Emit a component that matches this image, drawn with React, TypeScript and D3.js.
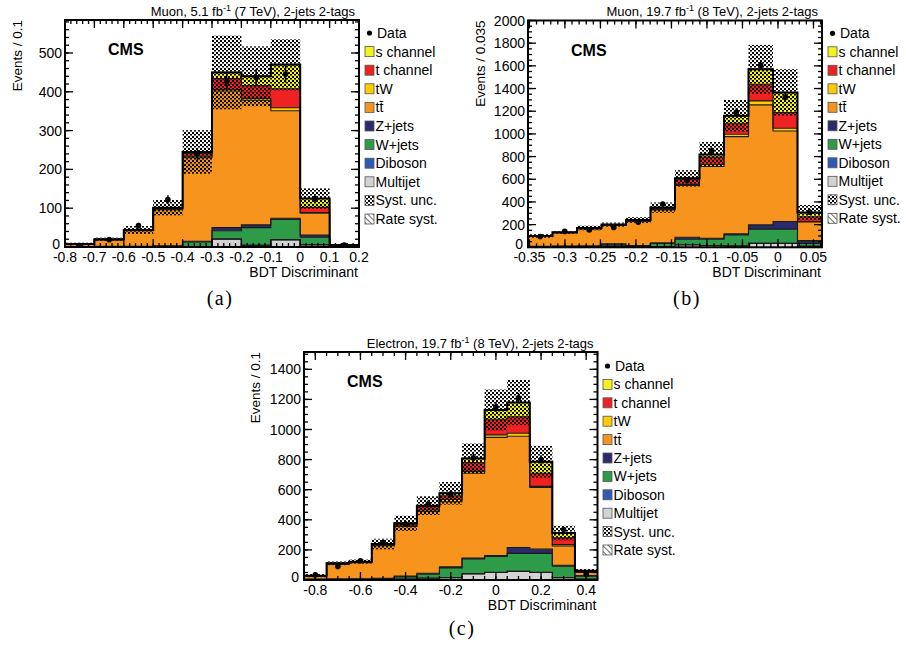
import React from 'react';
import * as d3 from 'd3';

// stack order, bottom to top
const layerKeys = ['multijet', 'diboson', 'wjets', 'zjets', 'ttbar', 'tW', 'tchan', 'schan'];
const layerColors: Record<string, string> = {
  multijet: '#d3d3d3',
  diboson: '#2f5ab4',
  wjets: '#2e9b48',
  zjets: '#2a2a6c',
  ttbar: '#f7941d',
  tW: '#ffcc00',
  tchan: '#ee2222',
  schan: '#f2f21e',
};
// legend order, top to bottom
const legendKeys = ['schan', 'tchan', 'tW', 'ttbar', 'zjets', 'wjets', 'diboson', 'multijet'];
const legendLabels: Record<string, string> = {
  schan: 's channel',
  tchan: 't channel',
  tW: 'tW',
  ttbar: 'tt\u0304',
  zjets: 'Z+jets',
  wjets: 'W+jets',
  diboson: 'Diboson',
  multijet: 'Multijet',
};

// ---- (a) Muon, 7 TeV
const edgesA = [-0.8, -0.7, -0.6, -0.5, -0.4, -0.3, -0.2, -0.1, 0, 0.1, 0.2];
const multijetA = [0, 0, 0, 0, 0, 20, 4, 18, 5, 0];
const dibosonA = [0, 0, 0, 0, 0.5, 1, 1, 1, 1, 0];
const wjetsA = [0.5, 1, 1, 2, 12.5, 21, 45, 52, 19, 1];
const zjetsA = [0.5, 0.5, 1, 1, 2, 8, 7, 3, 6, 1];
const ttbarA = [6, 16.5, 40, 93, 215, 352, 321, 277, 56, 1.5];
const tWA = [0.3, 0.5, 0.5, 1, 4, 4, 5, 8, 2, 0.5];
const tchanA = [0.4, 0.8, 1, 2.5, 7, 28, 33, 49, 13, 0.5];
const schanA = [0.3, 0.7, 0.5, 1.5, 4, 16, 24, 62, 23, 0.5];
const dataA = [4, 19, 55, 122, 240, 427, 437, 445, 125, 5];
const uncA = [3, 4, 10, 20, 56, 95, 77, 66, 26, 2];
const xTicksA = [-0.8, -0.7, -0.6, -0.5, -0.4, -0.3, -0.2, -0.1, 0, 0.1, 0.2];
const yTicksA = [0, 100, 200, 300, 400, 500];

// ---- (b) Muon, 8 TeV
const edgesB = [-0.352, -0.3175, -0.283, -0.2485, -0.214, -0.1795, -0.145, -0.1105, -0.076, -0.0415, -0.007, 0.0275, 0.062];
const multijetB = [2, 2, 3, 5, 4, 5, 20, 15, 10, 35, 35, 8];
const dibosonB = [0.5, 0.5, 1, 1, 1, 1.5, 2, 1, 1, 1, 1, 1];
const wjetsB = [3.5, 5.5, 6, 12, 7, 26.5, 49, 55, 99, 124, 124, 26];
const zjetsB = [2, 2, 2, 12, 4, 7, 18, 9, 8, 38, 68, 24];
const ttbarB = [89, 118, 151, 162, 214, 290, 456, 632, 858, 1058, 798, 164];
const tWB = [1, 1.5, 2, 3, 3, 4, 10, 18, 21, 35, 24, 5];
const tchanB = [1, 1.5, 3, 3, 4, 11, 45, 65, 97, 147, 138, 42];
const schanB = [1, 1, 2, 2, 3, 5, 8, 23, 65, 132, 177, 36];
const dataB = [95, 140, 153, 174, 221, 382, 592, 850, 1191, 1603, 1323, 310];
const uncB = [15, 12, 20, 18, 25, 45, 72, 110, 140, 215, 205, 67];
const xTicksB = [-0.35, -0.3, -0.25, -0.2, -0.15, -0.1, -0.05, 0, 0.05];
const yTicksB = [0, 200, 400, 600, 800, 1000, 1200, 1400, 1600, 1800, 2000];

// ---- (c) Electron, 8 TeV
const edgesC = [-0.85, -0.75, -0.65, -0.55, -0.45, -0.35, -0.25, -0.15, -0.05, 0.05, 0.15, 0.25, 0.35, 0.45];
const multijetC = [2, 3, 3, 5, 5, 12, 15, 41, 50, 57, 50, 15, 5];
const dibosonC = [0.5, 0.5, 0.5, 1, 1, 1, 1, 1, 1, 1, 1, 1, 1];
const wjetsC = [2.5, 2.5, 3.5, 4, 14, 25, 64, 98, 106, 119, 126, 75, 19];
const zjetsC = [1, 1, 1, 2, 7, 7, 7, 6, 6, 39, 28, 7, 5];
const ttbarC = [20, 98, 107, 216, 328, 410, 433, 563, 785, 739, 410, 128, 20];
const tWC = [1, 2, 3, 4, 5, 10, 15, 13, 16, 20, 7, 9, 2];
const tchanC = [1, 2, 2, 4, 12, 22, 25, 58, 104, 110, 87, 45, 4];
const schanC = [1, 2, 2, 3, 5, 7, 16, 28, 62, 94, 77, 32, 6];
const dataC = [35, 89, 128, 250, 372, 505, 572, 810, 1150, 1210, 800, 335, 38];
const uncC = [10, 12, 15, 35, 50, 62, 75, 100, 135, 150, 105, 48, 10];
const xTicksC = [-0.8, -0.6, -0.4, -0.2, 0, 0.2, 0.4];
const yTicksC = [0, 200, 400, 600, 800, 1000, 1200, 1400];

const panels = [
  {
    id: 'a',
    left: 65, right: 359, top: 20, bottom: 247, ymax: 585,
    edges: edgesA,
    layers: { multijet: multijetA, diboson: dibosonA, wjets: wjetsA, zjets: zjetsA, ttbar: ttbarA, tW: tWA, tchan: tchanA, schan: schanA },
    data: dataA, unc: uncA,
    xTicks: xTicksA, xMinor: 0.02, yTicks: yTicksA, yMinor: 20,
    title1: 'Muon, 5.1 fb', title2: ' (7 TeV), 2-jets 2-tags',
    yTitle: 'Events / 0.1', yTitleX: 22,
    legX: 365, legY: 33, legDy: 18.6,
    caption: '(a)', capX: 220, capY: 305,
  },
  {
    id: 'b',
    left: 528, right: 822, top: 20.5, bottom: 247.3, ymax: 2000,
    edges: edgesB,
    layers: { multijet: multijetB, diboson: dibosonB, wjets: wjetsB, zjets: zjetsB, ttbar: ttbarB, tW: tWB, tchan: tchanB, schan: schanB },
    data: dataB, unc: uncB,
    xTicks: xTicksB, xMinor: 0.01, yTicks: yTicksB, yMinor: 50,
    title1: 'Muon, 19.7 fb', title2: ' (8 TeV), 2-jets 2-tags',
    yTitle: 'Events / 0.035', yTitleX: 485,
    legX: 828, legY: 33.3, legDy: 18.5,
    caption: '(b)', capX: 687, capY: 305,
  },
  {
    id: 'c',
    left: 304, right: 597.5, top: 352, bottom: 580, ymax: 1515,
    edges: edgesC,
    layers: { multijet: multijetC, diboson: dibosonC, wjets: wjetsC, zjets: zjetsC, ttbar: ttbarC, tW: tWC, tchan: tchanC, schan: schanC },
    data: dataC, unc: uncC,
    xTicks: xTicksC, xMinor: 0.05, yTicks: yTicksC, yMinor: 50,
    title1: 'Electron, 19.7 fb', title2: ' (8 TeV), 2-jets 2-tags',
    yTitle: 'Events / 0.1', yTitleX: 260,
    legX: 603, legY: 366, legDy: 18.4,
    caption: '(c)', capX: 462, capY: 635,
  },
];

const fmt = (v: number) => String(+v.toFixed(3));

function Panel({ p }: { p: any }) {
  const lo = p.edges[0];
  const hi = p.edges[p.edges.length - 1];
  const x = d3.scaleLinear().domain([lo, hi]).range([p.left, p.right]);
  const y = d3.scaleLinear().domain([0, p.ymax]).range([p.bottom, p.top]);
  const nb = p.edges.length - 1;

  const rows = d3.range(nb).map((i) => {
    const r: any = {};
    layerKeys.forEach((k) => (r[k] = p.layers[k][i]));
    return r;
  });
  const series = d3.stack().keys(layerKeys)(rows);
  const steps = (s: any) =>
    d3.range(nb).flatMap((i) => [
      [p.edges[i], s[i][0], s[i][1]],
      [p.edges[i + 1], s[i][0], s[i][1]],
    ]);
  const area = d3.area<any>().x((d) => x(d[0])).y0((d) => y(d[1])).y1((d) => y(d[2]));
  const line = d3.line<any>().x((d) => x(d[0])).y((d) => y(d[2]));
  const total = series[series.length - 1].map((d) => d[1]);
  const clipId = 'clip-' + p.id;

  const xMinor = d3.range(Math.ceil(lo / p.xMinor - 1e-6) * p.xMinor, hi + 1e-9, p.xMinor);
  const yMinor = d3.range(0, p.ymax + 1e-9, p.yMinor);

  return (
    <g>
      <defs>
        <clipPath id={clipId}>
          <rect x={p.left} y={p.top} width={p.right - p.left} height={p.bottom - p.top} />
        </clipPath>
      </defs>
      <g clipPath={`url(#${clipId})`}>
        {series.map((s: any) => (
          <path key={s.key} d={area(steps(s)) || ''} fill={layerColors[s.key]} />
        ))}
        {/* systematic band */}
        {total.map((t: number, i: number) => (
          <rect
            key={'u' + i}
            x={x(p.edges[i])}
            width={x(p.edges[i + 1]) - x(p.edges[i])}
            y={y(t + p.unc[i])}
            height={y(Math.max(0, t - p.unc[i])) - y(t + p.unc[i])}
            fill="url(#syst)"
          />
        ))}
        {series.map((s: any) => (
          <path key={'l' + s.key} d={line(steps(s)) || ''} fill="none" stroke="#1a1a1a" strokeWidth={1.1} />
        ))}
        <path d={line(steps(series[series.length - 1])) || ''} fill="none" stroke="#000" strokeWidth={2} />
        {/* data */}
        {p.data.map((v: number, i: number) => {
          const cx = x((p.edges[i] + p.edges[i + 1]) / 2);
          const e = Math.sqrt(v);
          return (
            <g key={'d' + i}>
              <line x1={cx} x2={cx} y1={y(v - e)} y2={y(v + e)} stroke="#000" strokeWidth={1.5} />
              <circle cx={cx} cy={y(v)} r={2.8} fill="#000" />
            </g>
          );
        })}
      </g>

      {/* ticks */}
      <g stroke="#000" strokeWidth={1.3}>
        {xMinor.map((v, i) => (
          <g key={'xm' + i}>
            <line x1={x(v)} x2={x(v)} y1={p.bottom} y2={p.bottom - 4} />
            <line x1={x(v)} x2={x(v)} y1={p.top} y2={p.top + 4} />
          </g>
        ))}
        {p.xTicks.map((v: number, i: number) => (
          <g key={'xM' + i}>
            <line x1={x(v)} x2={x(v)} y1={p.bottom} y2={p.bottom - 8} />
            <line x1={x(v)} x2={x(v)} y1={p.top} y2={p.top + 8} />
          </g>
        ))}
        {yMinor.map((v, i) => (
          <g key={'ym' + i}>
            <line x1={p.left} x2={p.left + 4} y1={y(v)} y2={y(v)} />
            <line x1={p.right} x2={p.right - 4} y1={y(v)} y2={y(v)} />
          </g>
        ))}
        {p.yTicks.map((v: number, i: number) => (
          <g key={'yM' + i}>
            <line x1={p.left} x2={p.left + 8} y1={y(v)} y2={y(v)} />
            <line x1={p.right} x2={p.right - 8} y1={y(v)} y2={y(v)} />
          </g>
        ))}
      </g>
      <rect x={p.left} y={p.top} width={p.right - p.left} height={p.bottom - p.top} fill="none" stroke="#000" strokeWidth={2} />

      {/* tick labels */}
      {p.xTicks.map((v: number, i: number) => (
        <text key={'xl' + i} x={x(v)} y={p.bottom + 15} textAnchor="middle" fontSize={14}>
          {fmt(v)}
        </text>
      ))}
      {p.yTicks.map((v: number, i: number) => (
        <text key={'yl' + i} x={p.left - (v === 0 ? 5 : 3)} y={y(v) + (v === 0 ? 1.5 : 5)} textAnchor="end" fontSize={14}>
          {fmt(v)}
        </text>
      ))}

      {/* titles */}
      <text x={p.right - 4} y={p.top - 4.5} textAnchor="end" fontSize={13}>
        {p.title1}
        <tspan dy={-5} fontSize={9}>-1</tspan>
        <tspan dy={5}>{p.title2}</tspan>
      </text>
      <text
        transform={`translate(${p.yTitleX},${p.top}) rotate(-90)`}
        textAnchor="end"
        fontSize={13.5}
      >
        {p.yTitle}
      </text>
      <text x={p.right - 1} y={p.bottom + 30} textAnchor="end" fontSize={14}>
        BDT Discriminant
      </text>
      <text x={x(lo) + 43} y={p.top + 35} fontSize={16} fontWeight="bold">
        CMS
      </text>

      {/* legend */}
      <g fontSize={14}>
        <circle cx={p.legX + 4.5} cy={p.legY} r={2.6} fill="#000" />
        <text x={p.legX + 12} y={p.legY + 5}>Data</text>
        {legendKeys.map((k, i) => {
          const yy = p.legY + (i + 1) * p.legDy;
          return (
            <g key={'lg' + k}>
              <rect x={p.legX} y={yy - 5} width={9} height={10} fill={layerColors[k]} stroke="#555" strokeWidth={0.8} />
              <text x={p.legX + 10.5} y={yy + 5}>{legendLabels[k]}</text>
            </g>
          );
        })}
        <rect x={p.legX} y={p.legY + 9 * p.legDy - 5} width={9} height={10} fill="url(#syst)" stroke="#555" strokeWidth={0.8} />
        <text x={p.legX + 10.5} y={p.legY + 9 * p.legDy + 5}>Syst. unc.</text>
        <rect x={p.legX} y={p.legY + 10 * p.legDy - 5} width={9} height={10} fill="url(#rate)" stroke="#555" strokeWidth={0.8} />
        <text x={p.legX + 10.5} y={p.legY + 10 * p.legDy + 5}>Rate syst.</text>
      </g>

      <text
        x={p.capX}
        y={p.capY}
        textAnchor="middle"
        fontSize={20}
        letterSpacing={1.5}
        fontFamily="'Liberation Serif', 'DejaVu Serif', serif"
      >
        {p.caption}
      </text>
    </g>
  );
}

export default function App() {
  return (
    <svg
      width={906}
      height={646}
      style={{ position: 'absolute', left: 0, top: 0, background: '#fff' }}
      fontFamily="'Liberation Sans', Arial, Helvetica, sans-serif"
    >
      <defs>
        <pattern id="syst" patternUnits="userSpaceOnUse" width={4} height={4}>
          <rect x={0} y={0} width={2} height={2} fill="#000" />
          <rect x={2} y={2} width={2} height={1.6} fill="#000" />
        </pattern>
        <pattern id="rate" patternUnits="userSpaceOnUse" width={4} height={4} patternTransform="rotate(-45)">
          <rect x={0} y={0} width={4} height={4} fill="#fff" />
          <line x1={0} y1={0} x2={0} y2={4} stroke="#000" strokeWidth={1.2} />
        </pattern>
      </defs>
      <rect width={906} height={646} fill="#fff" />
      {panels.map((p) => (
        <Panel key={p.id} p={p} />
      ))}
    </svg>
  );
}
